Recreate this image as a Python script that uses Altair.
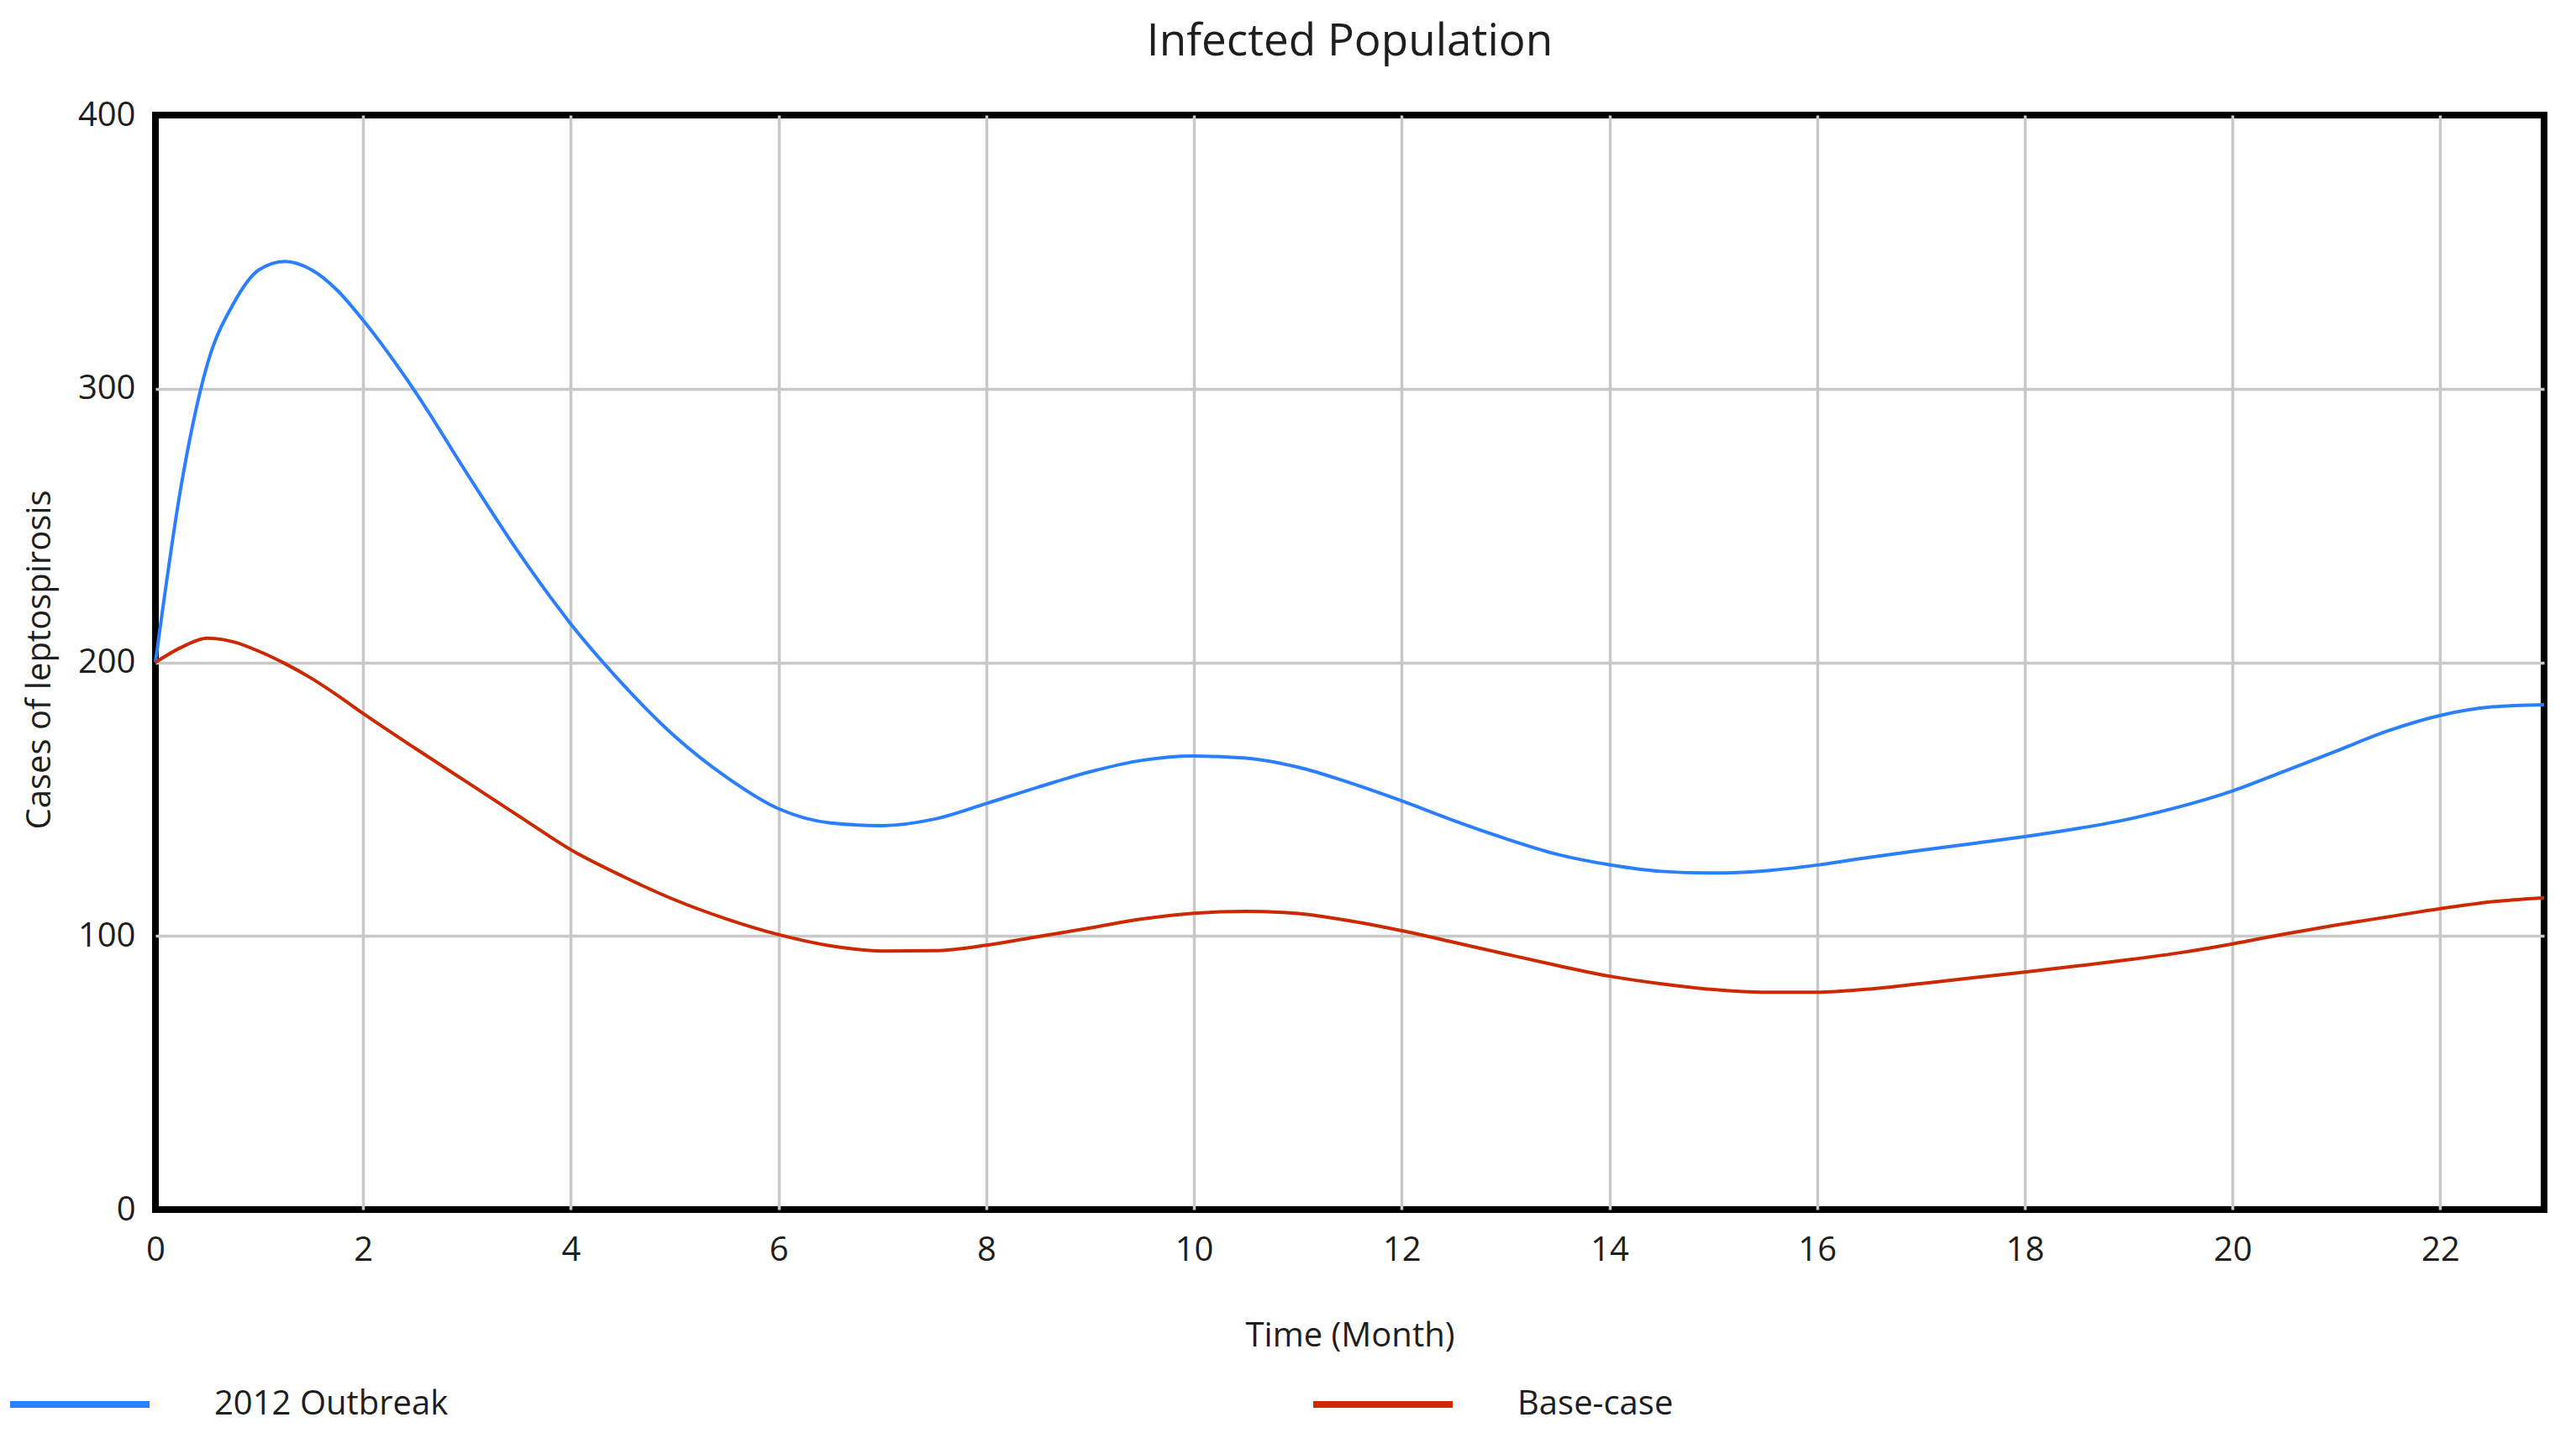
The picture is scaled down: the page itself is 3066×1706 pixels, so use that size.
import altair as alt
import pandas as pd

# Time (Month)
months = [0, 0.25, 0.5, 0.75, 1, 1.25, 1.5, 1.75, 2,
          2.5, 3, 3.5, 4, 4.5, 5, 5.5, 6, 6.5, 7, 7.5, 8, 8.5, 9, 9.5, 10,
          10.5, 11, 11.5, 12, 12.5, 13, 13.5, 14, 14.5, 15, 15.5, 16, 16.5,
          17, 17.5, 18, 18.5, 19, 19.5, 20, 20.5, 21, 21.5, 22, 22.5, 23]

# Cases of leptospirosis
outbreak_2012 = [200, 265, 309, 331, 343.5, 346.5, 343.5, 336, 325,
                 299, 269, 240, 214, 192, 173, 158, 146.5, 141.3, 140.3, 142.7,
                 148.4, 154.4, 160, 164.2, 165.8, 165, 161.7, 156, 149.4, 142.2,
                 135.6, 129.8, 126, 123.6, 123, 123.8, 125.9, 128.7, 131.3, 133.8,
                 136.3, 139.2, 142.7, 147.3, 153, 160.2, 167.6, 175, 180.6, 183.7,
                 184.5]
base_case = [200, 205.5, 208.8, 207.5, 204, 199.5, 194.2, 188, 181.3,
             168.6, 156.2, 143.8, 131.5, 121.8, 113.2, 106.2, 100.5, 96.4, 94.5,
             94.6, 96.6, 99.8, 102.9, 106.2, 108.3, 109, 108.2, 105.5, 101.9,
             97.7, 93.4, 89.2, 85.3, 82.5, 80.4, 79.4, 79.4, 80.6, 82.6, 84.7,
             86.8, 89, 91.3, 93.9, 97.1, 100.7, 104, 107, 110, 112.5, 114]

series_names = ["2012 Outbreak", "Base-case"]
series_colors = ["#2a7fff", "#cc2900"]
x_ticks = list(range(0, 23, 2))
y_ticks = [0, 100, 200, 300, 400]

rows = []
for name, vals in zip(series_names, [outbreak_2012, base_case]):
    for t, v in zip(months, vals):
        rows.append({"Time": t, "Cases": v, "Series": name})
df = pd.DataFrame(rows)

W, H = 2843, 1303
FONT = "Open Sans"
TXT = "#1e1e1e"

chart = alt.Chart(df).mark_line(strokeWidth=4, interpolate="monotone").encode(
    x=alt.X("Time:Q",
            scale=alt.Scale(domain=[0, 23], nice=False, zero=False),
            axis=alt.Axis(values=x_ticks, title="Time (Month)", domain=False,
                          ticks=False, tickSize=0, labelPadding=28,
                          labelFontSize=40, labelFont=FONT, labelColor=TXT,
                          labelBaseline="top", labelFlush=False,
                          gridColor="#c8c8c8", gridWidth=3.5,
                          gridOpacity=alt.condition("datum.value == 0", alt.value(0), alt.value(1)),
                          titleFont=FONT, titleFontSize=40, titleFontWeight="normal",
                          titleColor=TXT, titleX=W / 2, titleY=150,
                          titleBaseline="middle", titleAlign="center")),
    y=alt.Y("Cases:Q",
            scale=alt.Scale(domain=[0, 400], nice=False),
            axis=alt.Axis(values=y_ticks, title="Cases of leptospirosis", domain=False,
                          ticks=False, tickSize=0, labelPadding=24,
                          labelFontSize=40, labelFont=FONT, labelColor=TXT,
                          labelBaseline="middle", labelFlush=False,
                          gridColor="#c8c8c8", gridWidth=3.5,
                          gridOpacity=alt.condition("datum.value == 0 || datum.value == 400", alt.value(0), alt.value(1)),
                          titleFont=FONT, titleFontSize=40, titleFontWeight="normal",
                          titleColor=TXT, titleX=-138, titleY=648,
                          titleAngle=270, titleBaseline="middle", titleAlign="center")),
    color=alt.Color("Series:N",
                    scale=alt.Scale(domain=series_names, range=series_colors),
                    legend=alt.Legend(orient="none", legendX=-177, legendY=1448,
                                      direction="horizontal", title=None,
                                      symbolType="stroke", symbolSize=166 * 166,
                                      symbolStrokeWidth=8, labelFontSize=40,
                                      labelFont=FONT, labelColor=TXT,
                                      labelOffset=73, labelLimit=800,
                                      columnPadding=1013, padding=0)),
).properties(
    width=W, height=H,
    title=alt.TitleParams("Infected Population", font=FONT, fontSize=53,
                          fontWeight="normal", color=TXT, anchor="middle",
                          offset=40),
    autosize=alt.AutoSizeParams(type="none"),
    padding={"left": 177, "top": 129, "right": 30, "bottom": 258},
    background="white",
).configure_view(stroke="black", strokeWidth=8)

chart.save("out.html", embed_options={"renderer": "svg", "actions": False})
